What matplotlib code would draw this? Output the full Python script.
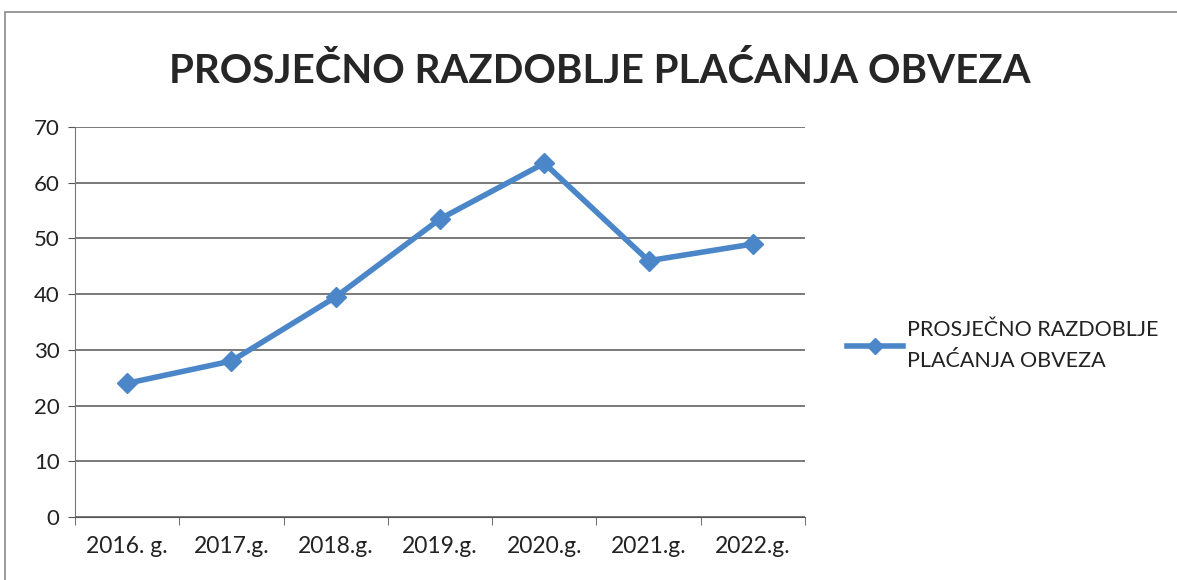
import matplotlib
matplotlib.use("Agg")
import matplotlib.pyplot as plt
from matplotlib.patches import Rectangle

categories = ["2016. g.", "2017.g.", "2018.g.", "2019.g.", "2020.g.", "2021.g.", "2022.g."]
values = [24, 28, 39.5, 53.5, 63.5, 46, 49]
series_name = "PROSJEČNO RAZDOBLJE\nPLAĆANJA OBVEZA"
title = "PROSJEČNO RAZDOBLJE PLAĆANJA OBVEZA"
yticks = [0, 10, 20, 30, 40, 50, 60, 70]

plt.rcParams['font.family'] = ['Lato', 'DejaVu Sans']

fig = plt.figure(figsize=(11.77, 5.80), dpi=100)
fig.patch.set_facecolor("white")
fig.patches.append(Rectangle((0.004, -0.01), 1.1, 0.99, transform=fig.transFigure,
                             fill=False, edgecolor="#8a8a8a", linewidth=1.2))

ax = fig.add_axes([0.0637, 0.1086, 0.6203, 0.6724])
x = list(range(len(categories)))
ax.plot(x, values, color="#4a86c8", linewidth=4, marker="D", markersize=10,
        markerfacecolor="#4a86c8", markeredgecolor="#4a86c8", label=series_name, zorder=3)

ax.set_xlim(-0.5, len(categories) - 0.5)
ax.set_ylim(0, 70)
ax.set_yticks(yticks)
ax.set_xticks(x)
ax.set_xticklabels(categories, fontsize=16.5, color="#222222")
for lab in ax.get_yticklabels():
    lab.set_color("#222222")
ax.tick_params(axis='y', labelsize=16, length=5, color="#555555", pad=6)
ax.tick_params(axis='x', length=0, pad=14)
# category boundary ticks
ax.set_xticks([i - 0.5 for i in range(len(categories) + 1)], minor=True)
ax.tick_params(axis='x', which='minor', length=6, color="#555555")
ax.grid(axis='y', color="#555555", linewidth=1.1)
for s in ["top", "right"]:
    ax.spines[s].set_visible(False)
ax.spines["left"].set_color("#777777")
ax.spines["bottom"].set_color("#555555")
ax.spines["left"].set_linewidth(0.8)
ax.set_axisbelow(True)

fig.text(0.51, 0.878, title, ha="center", va="center", fontsize=29, fontweight="bold",
         color="#262626")

leg = ax.legend(loc="center left", bbox_to_anchor=(0.703, 0.405), bbox_transform=fig.transFigure,
                frameon=False, fontsize=15.5, handlelength=2.6, handletextpad=0.2,
                markerscale=0.8, labelspacing=0.6)
for t in leg.get_texts():
    t.set_color("#222222")
    t.set_linespacing(1.7)

fig.savefig("out.png", dpi=100, facecolor="white")
